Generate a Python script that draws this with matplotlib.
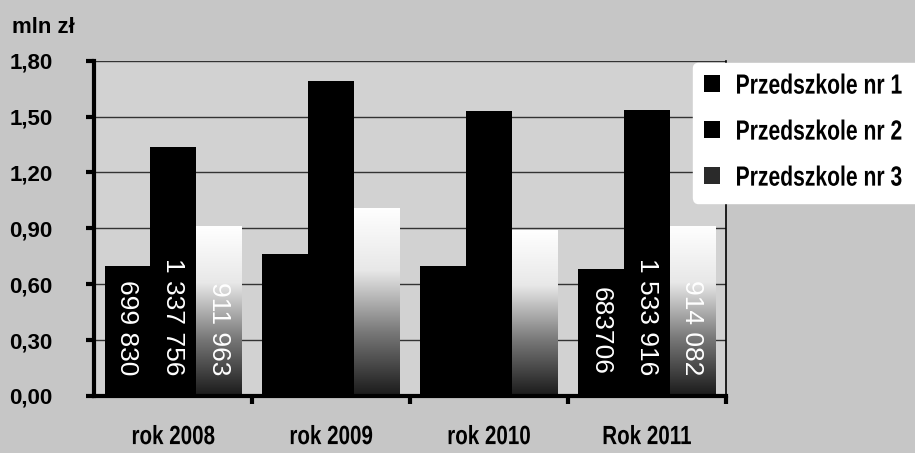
import matplotlib
matplotlib.use("Agg")
import matplotlib.pyplot as plt
import numpy as np
from matplotlib.patches import Patch
from matplotlib.colors import LinearSegmentedColormap
from matplotlib.patheffects import AbstractPathEffect
from matplotlib.transforms import Affine2D, Bbox

plt.rcParams['font.family'] = ['Liberation Sans', 'DejaVu Sans']
plt.rcParams['font.weight'] = 'bold'

categories = ["rok 2008", "rok 2009", "rok 2010", "Rok 2011"]
series_names = ["Przedszkole nr 1", "Przedszkole nr 2", "Przedszkole nr 3"]
p1 = [0.699830, 0.76, 0.70, 0.683706]
p2 = [1.337756, 1.69, 1.53, 1.533916]
p3 = [0.911963, 1.01, 0.89, 0.914082]
labels1 = ["699 830", None, None, "683706"]
labels2 = ["1 337 756", None, None, "1 533 916"]
labels3 = ["911 963", None, None, "914 082"]
yticks = [0.0, 0.3, 0.6, 0.9, 1.2, 1.5, 1.8]
yticklabels = ["0,00", "0,30", "0,60", "0,90", "1,20", "1,50", "1,80"]


class Condense(AbstractPathEffect):
    """Horizontally condense glyphs (emulates a narrow font)."""
    def __init__(self, sx=0.78, anchor='left'):
        super().__init__()
        self.sx = sx
        self.anchor = anchor

    def draw_path(self, renderer, gc, tpath, affine, rgbFace=None):
        ext = tpath.get_extents()
        if self.anchor == 'center':
            a = (ext.x0 + ext.x1) / 2
        elif self.anchor == 'right':
            a = ext.x1
        else:
            a = ext.x0
        t = Affine2D().translate(-a, 0).scale(self.sx, 1).translate(a, 0) + affine
        renderer.draw_path(gc, tpath, t, rgbFace)


def condense_text(t, sx, anchor):
    t.set_path_effects([Condense(sx, anchor)])
    orig = t.get_window_extent

    def gwe(renderer=None, dpi=None, _o=orig, _sx=sx, _a=anchor):
        bb = _o(renderer, dpi)
        wdt = (bb.x1 - bb.x0) * _sx
        if _a == 'center':
            c = (bb.x0 + bb.x1) / 2
            return Bbox.from_extents(c - wdt / 2, bb.y0, c + wdt / 2, bb.y1)
        return Bbox.from_extents(bb.x0, bb.y0, bb.x0 + wdt, bb.y1)
    t.get_window_extent = gwe


bg = '#c6c6c6'
fig = plt.figure(figsize=(9.15, 4.53), dpi=100, facecolor=bg)
ax = fig.add_axes([0.103, 0.126, 0.690, 0.740])
ax.set_facecolor('#d2d2d2')

x = np.arange(len(categories))
w = 0.29
ax.set_axisbelow(True)
ax.yaxis.grid(True, color='#333333', linewidth=1.0)

b1 = ax.bar(x - w, p1, w, color='black', zorder=2)
b2 = ax.bar(x, p2, w, color='black', zorder=2)
b3 = ax.bar(x + w, p3, w, color='none', zorder=2)

cmap = LinearSegmentedColormap.from_list('g', ['#ffffff', '#e8e8e8', '#777777', '#1a1a1a'])
grad = np.linspace(0, 1, 256).reshape(-1, 1)
for rect in b3:
    x0 = rect.get_x(); h = rect.get_height(); ww = rect.get_width()
    im = ax.imshow(grad, cmap=cmap, aspect='auto', extent=[x0, x0 + ww, 0, h],
                   origin='upper', zorder=2)
    im.set_clip_path(rect)

ax.set_xlim(-0.5, 3.5)
ax.set_ylim(0, 1.8)

for bars, labs in [(b1, labels1), (b2, labels2), (b3, labels3)]:
    for rect, lab in zip(bars, labs):
        if lab is None:
            continue
        ax.annotate(lab, (rect.get_x() + rect.get_width() / 2, 0),
                    xytext=(0, 15), textcoords='offset points',
                    rotation=-90, ha='center', va='bottom', color='white',
                    fontsize=19, fontweight='normal', zorder=5)

ax.set_yticks(yticks)
ax.set_yticklabels(yticklabels, fontsize=16, fontweight='bold')
ax.set_xticks(x)
ax.set_xticklabels(categories, fontsize=19, fontweight='bold')
for t in ax.get_xticklabels():
    condense_text(t, 0.78, 'center')
ax.tick_params(axis='x', length=0, pad=21)
ax.set_xticks([0.5, 1.5, 2.5, 3.5], minor=True)
ax.tick_params(axis='x', which='minor', length=6, width=3, direction='out')
ax.tick_params(axis='y', length=6, width=3, direction='out', pad=24)

ax.spines['top'].set_visible(False)
ax.spines['left'].set_linewidth(3)
ax.spines['bottom'].set_linewidth(3)
ax.spines['right'].set_linewidth(1.2)

fig.text(0.013, 0.94, "mln zł", fontsize=16, fontweight='bold', ha='left', va='center')

handles = [Patch(facecolor='black'), Patch(facecolor='black'), Patch(facecolor='#2a2a2a')]
leg = fig.legend(handles, series_names, loc='upper left', bbox_to_anchor=(0.757, 0.862),
                 fontsize=20, frameon=True, facecolor='white', edgecolor='white',
                 framealpha=1, handlelength=0.58, handleheight=0.58, handletextpad=0.55,
                 labelspacing=0.72, borderpad=0.4, borderaxespad=0)
for t in leg.get_texts():
    t.set_fontweight('bold')
    condense_text(t, 0.76, 'left')

fig.savefig('out.png', dpi=100, facecolor=bg)
